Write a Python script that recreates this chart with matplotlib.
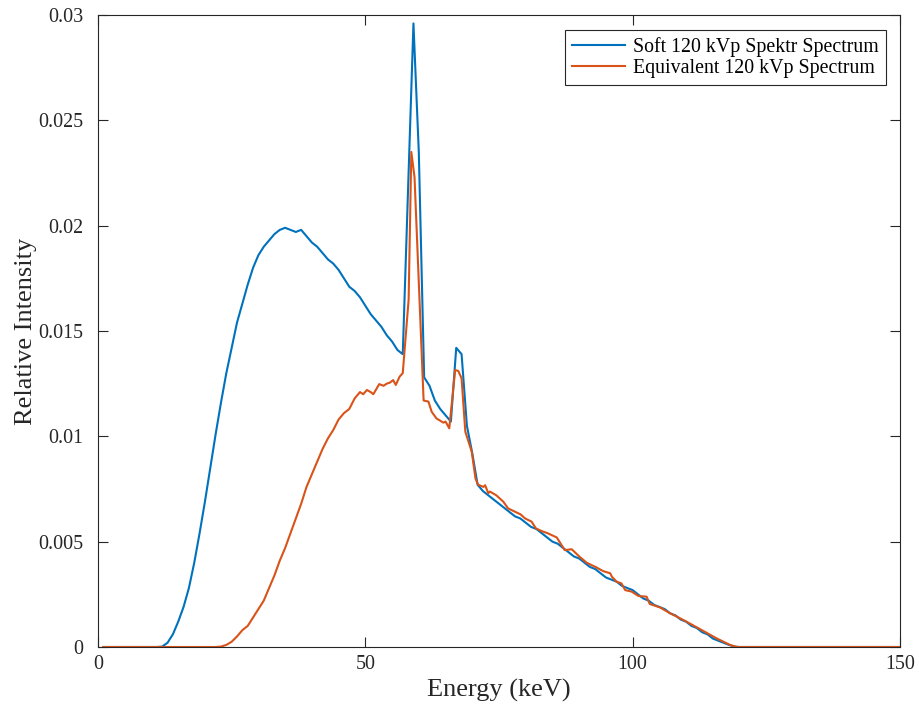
import numpy as np
import matplotlib
matplotlib.use('Agg')
import matplotlib.pyplot as plt
from matplotlib.ticker import FuncFormatter

plt.rcParams['font.family'] = ['Liberation Serif', 'DejaVu Serif']

# soft 120 kVp spectrum (Spektr)
soft_kev = [1, 11, 12, 13, 14, 15, 16, 17, 18, 19, 20, 21, 22, 23, 24, 25, 26, 27, 28, 29,
            30, 31, 32, 33, 34, 35, 36, 37, 38, 39, 40, 41, 42, 43, 44, 45, 46, 47, 48, 49,
            50, 51, 52, 53, 54, 55, 56, 57, 58, 59, 60, 61, 62, 63, 64, 65, 66, 67, 68, 69,
            70, 71, 72, 73, 74, 75, 76, 77, 78, 79, 80, 81, 82, 83, 84, 85, 86, 87, 88, 89,
            90, 91, 92, 93, 94, 95, 96, 97, 98, 99, 100, 101, 102, 103, 104, 105, 106, 107,
            108, 109, 110, 111, 112, 113, 114, 115, 116, 117, 118, 119, 120, 150]
soft_val = [0, 0, 0.00002, 0.0002, 0.0006, 0.0012, 0.0019, 0.0028, 0.0040, 0.0054,
            0.0069, 0.0085, 0.0101, 0.0116, 0.0130, 0.0142, 0.0154, 0.0163, 0.0172, 0.0180,
            0.0186, 0.0190, 0.0193, 0.0196, 0.0198, 0.0199, 0.0198, 0.0197, 0.0198, 0.0195,
            0.0192, 0.0190, 0.0187, 0.0184, 0.0182, 0.0179, 0.0175, 0.0171, 0.0169, 0.0166,
            0.0162, 0.0158, 0.0155, 0.0152, 0.0148, 0.0145, 0.0141, 0.0139, 0.0218, 0.0296,
            0.0235, 0.0128, 0.0124, 0.0117, 0.0113, 0.0110, 0.0107, 0.0142, 0.0139, 0.0105,
            0.0092, 0.0077, 0.0074, 0.0072, 0.0070, 0.0068, 0.0066, 0.0064, 0.0062, 0.0061,
            0.0059, 0.0057, 0.0056, 0.0054, 0.0052, 0.0050, 0.0049, 0.0047, 0.0045, 0.0043,
            0.0042, 0.0040, 0.0038, 0.0037, 0.0035, 0.0033, 0.0032, 0.0031, 0.0029, 0.0028,
            0.0027, 0.0025, 0.0023, 0.0022, 0.0020, 0.0019, 0.0018, 0.0016, 0.0015, 0.0013,
            0.0012, 0.0010, 0.0009, 0.0007, 0.0006, 0.0004, 0.0003, 0.0002, 0.0001, 0.00002,
            0, 0]

# equivalent 120 kVp spectrum
equiv_kev = [1, 22, 23, 24, 25, 26, 27, 28, 29, 30, 31, 32, 33, 34, 35, 36, 37, 38, 39,
             40, 41, 42, 43, 44, 45, 46, 47, 48, 49, 49.6, 50.3, 51, 51.5, 52.6, 53.4, 54,
             54.6, 55.2, 55.7, 56.4, 57, 58.1, 58.6, 59.2, 60.9, 61.8, 62.4, 63.3, 64.6, 65.0,
             65.7, 66.8, 67.4, 68.0, 68.7, 69.9, 70.6, 71.1, 72.1, 72.4, 73.0, 73.3, 74.5, 75.8,
             76.7, 78.0, 79.0, 79.9, 81.1, 81.9, 83.0, 84.1, 85.8, 86.7, 87.3, 88.6, 90.0, 91.4,
             93.2, 94.5, 95.8, 96.1, 97.0, 97.9, 98.6, 99.8, 101.1, 102.6, 103.2, 105.1, 107.0,
             109.5, 112.3, 115.7, 118.2, 119.5, 150]
equiv_val = [0, 0, 0.00002, 0.0001, 0.00025, 0.0005, 0.0008, 0.0010, 0.0014, 0.0018,
             0.0022, 0.0028, 0.0034, 0.0041, 0.0047, 0.0054, 0.0061, 0.0068, 0.0076,
             0.0082, 0.0088, 0.0094, 0.0099, 0.0103, 0.0108, 0.0111, 0.0113, 0.0118, 0.0121,
             0.0120, 0.0122, 0.0121, 0.0120, 0.01248, 0.0124, 0.0125,
             0.01255, 0.01267, 0.01244, 0.01283, 0.0130, 0.0165, 0.0235, 0.0223, 0.0117,
             0.01165, 0.01117, 0.01085, 0.01065, 0.0107,
             0.01038, 0.01315, 0.0131, 0.01275, 0.01022, 0.00927, 0.0080, 0.0077, 0.0076,
             0.00768, 0.0073, 0.00738, 0.0072, 0.0069,
             0.00658, 0.00642, 0.0063, 0.0061, 0.00595, 0.00563, 0.0055, 0.0054, 0.0052,
             0.00484, 0.0046, 0.00464, 0.0043, 0.0040,
             0.00378, 0.0036, 0.0035, 0.00334, 0.0031, 0.00302, 0.0027, 0.00263, 0.00242,
             0.00239, 0.00204, 0.00188, 0.0016,
             0.00128, 0.00089, 0.00041, 0.0001, 0, 0]

fig = plt.figure(figsize=(9.19, 7.11), dpi=100)
ax = fig.add_axes([98/919, 1-647/711, 802/919, 632/711])

ax.plot(soft_kev, soft_val, color='#0072BD', lw=1.5, label='Soft 120 kVp Spektr Spectrum')
ax.plot(equiv_kev, equiv_val, color='#D95319', lw=1.5, label='Equivalent 120 kVp Spectrum')

ax.set_xlim(0, 150)
ax.set_ylim(0, 0.03)
ax.set_xticks([0, 50, 100, 150])
ax.set_yticks(np.arange(0, 0.0301, 0.005))
ax.yaxis.set_major_formatter(FuncFormatter(lambda v, p: '%g' % round(v, 4)))
ax.tick_params(direction='in', length=7, width=0.8, top=True, right=True,
               labelsize=14.4, colors='#262626')
ax.tick_params(axis='x', pad=6)
ax.tick_params(axis='y', pad=10.5)
for s in ax.spines.values():
    s.set_color('#262626')
    s.set_linewidth(0.8)

ax.set_xlabel('Energy (keV)', fontsize=19, color='#262626', labelpad=3.5)
ax.set_ylabel('Relative Intensity', fontsize=19, color='#262626', labelpad=1)

leg = ax.legend(loc='upper right', bbox_to_anchor=(0.9825, 0.9763), borderaxespad=0,
                fontsize=14.3, fancybox=False, framealpha=1, edgecolor='#262626',
                handlelength=2.7, handletextpad=0.4, borderpad=0.35, labelspacing=0.12)
leg.get_frame().set_linewidth(0.8)

fig.savefig('out.png', dpi=100)
